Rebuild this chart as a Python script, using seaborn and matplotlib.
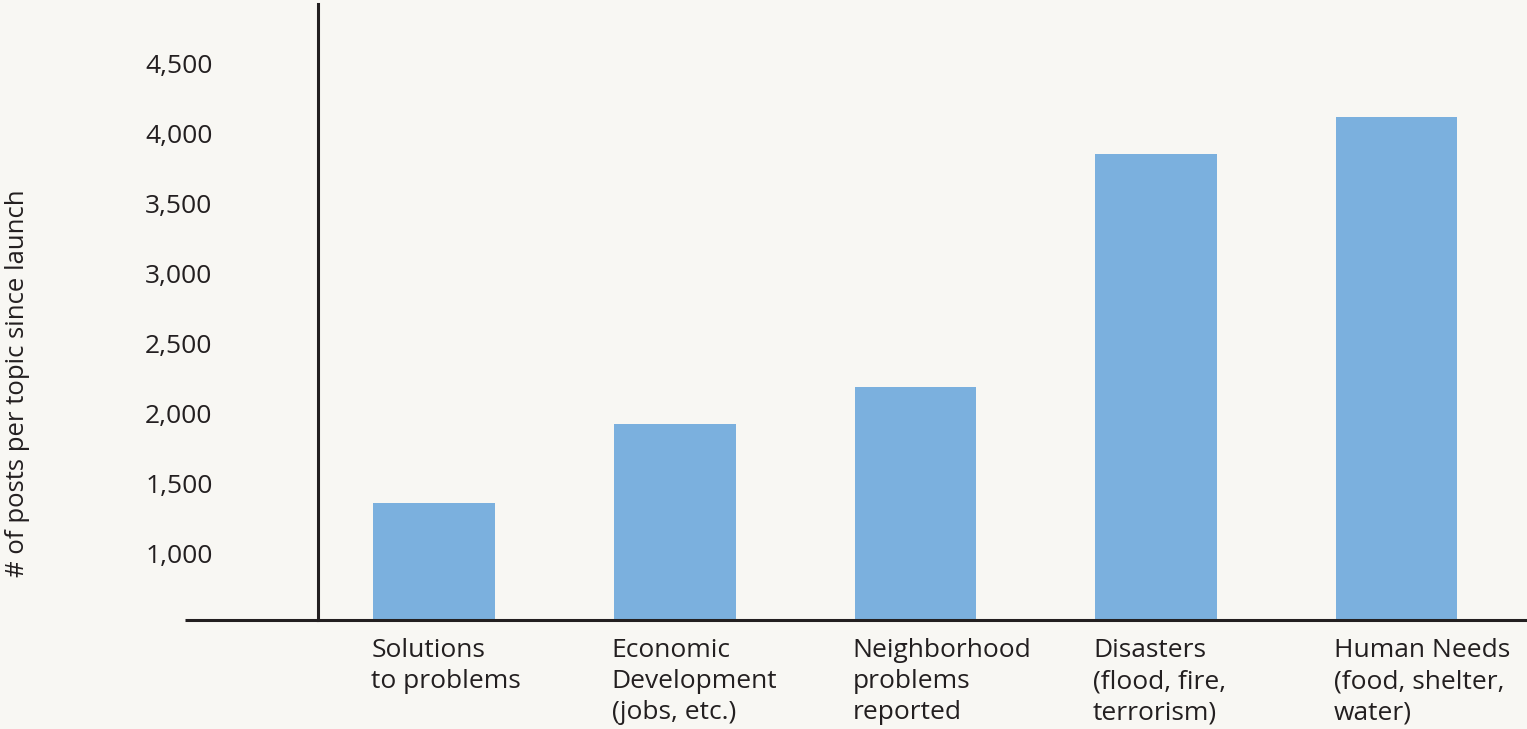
import matplotlib
matplotlib.use("Agg")
import matplotlib.pyplot as plt
import seaborn as sns
import pandas as pd
import numpy as np

categories = [
    "Solutions\nto problems",
    "Economic\nDevelopment\n(jobs, etc.)",
    "Neighborhood\nproblems\nreported",
    "Disasters\n(flood, fire,\nterrorism)",
    "Human Needs\n(food, shelter,\nwater)",
]
values = [1362, 1927, 2185, 3851, 4116]
ytick_values = [1000, 1500, 2000, 2500, 3000, 3500, 4000, 4500]
ytick_labels = ["1,000", "1,500", "2,000", "2,500", "3,000", "3,500", "4,000", "4,500"]
ylabel = "# of posts per topic since launch"

BG = "#f8f7f3"
BAR = "#7bb0de"
INK = "#231f20"

sns.set_theme(style="white")
plt.rcParams["font.family"] = ["Open Sans", "DejaVu Sans"]

W, H = 1527, 729
fig = plt.figure(figsize=(W / 100, H / 100), dpi=100, facecolor=BG)
ax = fig.add_axes([318 / W, (H - 620) / H, (W - 318) / W, (620 - 4) / H])
ax.set_facecolor(BG)

df = pd.DataFrame({"cat": categories, "val": values})
sns.barplot(data=df, x="cat", y="val", color=BAR, saturation=1, width=0.506, ax=ax)
for p in ax.patches:
    p.set_edgecolor("none")

ax.set_xlim(-0.483, 4.542)
ax.set_ylim(525, 4923)

ax.set_yticks(ytick_values, ytick_labels)
ax.tick_params(axis="y", length=0, pad=76, labelsize=19, labelcolor=INK)
for lab in ax.get_yticklabels():
    lab.set_horizontalalignment("right")

ax.set_xticks(np.arange(len(categories)) - 0.262, categories, ha="left",
              linespacing=1.32)
ax.tick_params(axis="x", length=0, pad=13, labelsize=19, labelcolor=INK)

ax.set_xlabel("")
ax.set_ylabel("")

for s in ["top", "right"]:
    ax.spines[s].set_visible(False)
for s in ["left", "bottom"]:
    ax.spines[s].set_visible(True)
    ax.spines[s].set_color(INK)
    ax.spines[s].set_linewidth(2.2)

# extend bottom axis line to the left
ext = (318 - 185) / (W - 318)
ax.plot([-ext, 0], [0, 0], transform=ax.transAxes, color=INK, lw=2.2,
        clip_on=False, solid_capstyle="butt")

fig.text(18 / W, 1 - 383 / H, ylabel, rotation=90, ha="center", va="center",
         fontsize=18.5, color=INK)

fig.savefig("out.png", dpi=100, facecolor=BG)
